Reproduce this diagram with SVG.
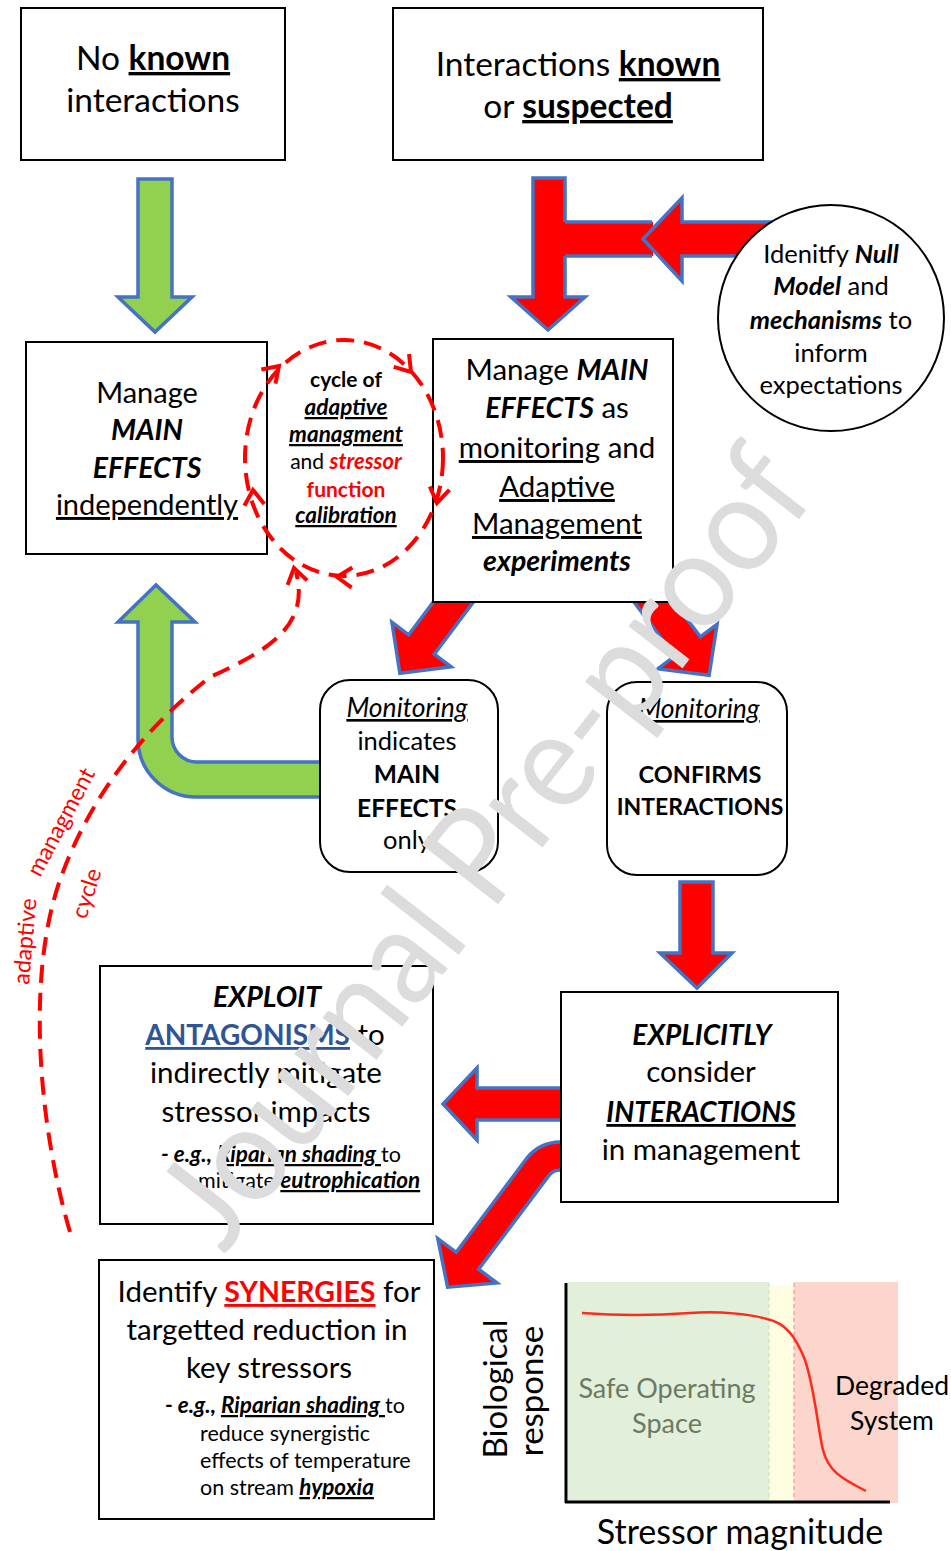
<svg xmlns="http://www.w3.org/2000/svg" xmlns:xlink="http://www.w3.org/1999/xlink" width="951" height="1551" viewBox="0 0 951 1551">
<style>
.box{fill:#fff;stroke:#000;stroke-width:2}
.ar{fill:#FF0000;stroke:#4472C4;stroke-width:3.5;stroke-linejoin:miter}
.ag{fill:#92D050;stroke:#4472C4;stroke-width:3.5;stroke-linejoin:miter}
.t{font-family:Lato,"Open Sans","Liberation Sans",sans-serif;fill:#000}
.c{text-anchor:middle}
.b{font-weight:bold}
.i{font-style:italic}
.u{text-decoration:underline}
.red{fill:#FF0000}
.dash{fill:none;stroke:#FF0000;stroke-width:4;stroke-dasharray:18 10}
.chev{fill:none;stroke:#FF0000;stroke-width:4}
</style>
<defs>
<path id="chev" d="M-15,-10 L0,0 L-15,10"/>
</defs>
<rect width="951" height="1551" fill="#fff"/>

<g id="connectors">
<polygon class="ag" points="138,179 172,179 172,297 192,297 155,332 118,297 138,297"/>
<polygon class="ar" points="533,178 565,178 565,297 585,297 548,330 511,297 533,297"/>
<rect x="563" y="222" width="90" height="34" fill="#FF0000"/>
<line x1="565" y1="222" x2="652" y2="222" stroke="#4472C4" stroke-width="3.5"/>
<line x1="565" y1="256" x2="652" y2="256" stroke="#4472C4" stroke-width="3.5"/>
<polygon class="ar" points="775,222 682,222 682,198 643,239 682,281 682,256 775,256"/>
<polygon class="ar" points="450.7,578.9 408.7,634.9 391.9,622.3 399.9,673.3 451.1,666.7 434.3,654.1 476.3,598.1"/>
<polygon class="ar" points="632.7,600.1 674.7,656.1 657.9,668.7 709.1,675.3 717.1,624.3 700.3,636.9 658.3,580.9"/>
<path class="ag" d="M330,762 L197,762 A25,25 0 0 1 172,737 L172,622 L195,622 L156,585 L118,622 L138,622 L138,739 A58,58 0 0 0 196,797 L330,797 Z"/>
<polygon class="ar" points="680,882 713,882 713,953 732,953 697,988 660,953 680,953"/>
<polygon class="ar" points="575,1088 477,1088 477,1068 443,1104 477,1140 477,1120 575,1120"/>
<path class="ar" d="M575,1142 L560,1142 A42,42 0 0 0 526.4,1158.8 L456.2,1252.4 L437.8,1238.6 L447.6,1287.2 L497,1283 L478.6,1269.2 L548.8,1175.6 A14,14 0 0 1 560,1170 L575,1170 Z"/>
</g>

<g id="node-no-known">
<rect class="box" x="21" y="8" width="264" height="152"/>
<text class="t c" x="153" y="70" font-size="33.5">No <tspan class="b u">known</tspan></text>
<text class="t c" x="153" y="112" font-size="33.5">interactions</text>
</g>

<g id="node-known">
<rect class="box" x="393" y="8" width="370" height="152"/>
<text class="t c" x="578" y="76" font-size="33.5">Interactions <tspan class="b u">known</tspan></text>
<text class="t c" x="578" y="118" font-size="33.5">or <tspan class="b u">suspected</tspan></text>
</g>

<g id="node-null-model">
<circle cx="831" cy="318" r="113" fill="#fff" stroke="#000" stroke-width="2"/>
<text class="t c" x="831" y="263" font-size="25.5">Idenitfy <tspan class="b i">Null</tspan></text>
<text class="t c" x="831" y="295" font-size="25.5"><tspan class="b i">Model</tspan> and</text>
<text class="t c" x="831" y="329" font-size="25.5"><tspan class="b i">mechanisms</tspan> to</text>
<text class="t c" x="831" y="362" font-size="25.5">inform</text>
<text class="t c" x="831" y="394" font-size="25.5">expectations</text>
</g>

<g id="node-manage-independent">
<rect class="box" x="26" y="342" width="241" height="212"/>
<text class="t c" x="147" y="403" font-size="29">Manage</text>
<text class="t c b i" x="147" y="440" font-size="28.5">MAIN</text>
<text class="t c b i" x="147" y="478" font-size="28.5">EFFECTS</text>
<text class="t c u" x="147" y="515" font-size="29">independently</text>
</g>

<g id="node-manage-experiments">
<rect class="box" x="433" y="339" width="240" height="263"/>
<text class="t c" x="557" y="380" font-size="29.5">Manage <tspan class="b i" font-size="28.5">MAIN</tspan></text>
<text class="t c" x="557" y="418" font-size="29.5"><tspan class="b i" font-size="28.5">EFFECTS</tspan> as</text>
<text class="t c" x="557" y="458" font-size="29.5"><tspan class="u">monitoring</tspan> and</text>
<text class="t c u" x="557" y="497" font-size="29.5">Adaptive</text>
<text class="t c u" x="557" y="534" font-size="29.5">Management</text>
<text class="t c b i" x="557" y="571" font-size="28.5">experiments</text>
</g>

<g id="node-monitoring-main">
<rect class="box" x="320" y="680" width="178" height="192" rx="30"/>
<text class="t c i u" x="407" y="717" font-size="26.5">Monitoring</text>
<text class="t c" x="407" y="750" font-size="25.5">indicates</text>
<text class="t c b" x="407" y="783" font-size="24.5">MAIN</text>
<text class="t c b" x="407" y="817" font-size="24.5">EFFECTS</text>
<text class="t c" x="407" y="849" font-size="25.5">only</text>
</g>

<g id="node-monitoring-interactions">
<rect class="box" x="607" y="682" width="180" height="193" rx="30"/>
<text class="t c i u" x="699" y="718" font-size="26.5">Monitoring</text>
<text class="t c b" x="700" y="783" font-size="23.5">CONFIRMS</text>
<text class="t c b" x="700" y="815" font-size="23">INTERACTIONS</text>
</g>

<g id="node-exploit">
<rect class="box" x="100" y="966" width="333" height="258"/>
<text class="t c b i" x="267" y="1007" font-size="28.5">EXPLOIT</text>
<text class="t c" x="265" y="1045" font-size="29.5"><tspan class="b u" fill="#2F5597" font-size="28">ANTAGONISMS</tspan> to</text>
<text class="t c" x="266" y="1083" font-size="29.5">indirectly mitigate</text>
<text class="t c" x="266" y="1122" font-size="29.5">stressor impacts</text>
<text class="t" x="161" y="1162" font-size="21.5"><tspan class="b i" font-size="22.5">- e.g., </tspan><tspan class="b i u" font-size="22.5">Riparian shading </tspan>to</text>
<text class="t" x="198" y="1188" font-size="21.5">mitigate <tspan class="b i u" font-size="22.5">eutrophication</tspan></text>
</g>

<g id="node-explicitly">
<rect class="box" x="561" y="992" width="277" height="210"/>
<text class="t c b i" x="702" y="1045" font-size="28">EXPLICITLY</text>
<text class="t c" x="701" y="1082" font-size="29.5">consider</text>
<text class="t c b i u" x="701" y="1122" font-size="28">INTERACTIONS</text>
<text class="t c" x="701" y="1160" font-size="29.5">in management</text>
</g>

<g id="node-synergies">
<rect class="box" x="99" y="1260" width="335" height="259"/>
<text class="t c" x="269" y="1302" font-size="29.5">Identify <tspan class="b u red" font-size="28.5">SYNERGIES</tspan> for</text>
<text class="t c" x="267" y="1340" font-size="29.5">targetted reduction in</text>
<text class="t c" x="269" y="1378" font-size="29.5">key stressors</text>
<text class="t" x="165" y="1413" font-size="21.5"><tspan class="b i" font-size="22.5">- e.g., </tspan><tspan class="b i u" font-size="22.5">Riparian shading </tspan>to</text>
<text class="t" x="200" y="1441" font-size="21.5">reduce synergistic</text>
<text class="t" x="200" y="1468" font-size="21.5">effects of temperature</text>
<text class="t" x="200" y="1495" font-size="21.5">on stream <tspan class="b i u" font-size="22.5">hypoxia</tspan></text>
</g>

<g id="node-graph">
<rect x="568" y="1282" width="201" height="219" fill="#E2EFDA"/>
<rect x="769" y="1285" width="25" height="216" fill="#FFFDE1"/>
<rect x="794" y="1282" width="104" height="221" fill="#FCD5CC"/>
<line x1="769" y1="1283" x2="769" y2="1500" stroke="#C5E0B4" stroke-width="1" stroke-dasharray="4 3"/>
<line x1="794" y1="1283" x2="794" y2="1500" stroke="#F08878" stroke-width="1" stroke-dasharray="4 3"/>
<path d="M582,1313 C620,1316 650,1316 690,1313 C720,1311 750,1314 767,1319 C785,1323 795,1335 805,1360 C815,1390 818,1430 823,1450 C828,1470 840,1478 866,1491" fill="none" stroke="#FF2A1A" stroke-width="2.5"/>
<line x1="566" y1="1283" x2="566" y2="1503" stroke="#000" stroke-width="3"/>
<line x1="565" y1="1502" x2="890" y2="1502" stroke="#000" stroke-width="3"/>
<text class="t c" x="667" y="1398" font-size="27" style="fill:#6B7B63">Safe Operating</text>
<text class="t c" x="667" y="1433" font-size="27" style="fill:#6B7B63">Space</text>
<text class="t c" x="892" y="1395" font-size="26.5">Degraded</text>
<text class="t c" x="892" y="1430" font-size="26.5">System</text>
<text class="t c" transform="translate(507,1389) rotate(-90)" font-size="33">Biological</text>
<text class="t c" transform="translate(543,1391) rotate(-90)" font-size="33">response</text>
<text class="t c" x="740" y="1544" font-size="34">Stressor magnitude</text>
</g>

<g id="node-cycle">
<text class="t c b" x="346" y="387" font-size="21">cycle of</text>
<text class="t c b i u" x="346" y="415" font-size="22.5">adaptive</text>
<text class="t c b i u" x="346" y="442" font-size="22.5">managment</text>
<text class="t c" x="346" y="469" font-size="21">and <tspan class="b i red" font-size="22">stressor</tspan></text>
<text class="t c b red" x="346" y="497" font-size="21">function</text>
<text class="t c b i u" x="346" y="523" font-size="22.5">calibration</text>
</g>

<g id="cycle-connectors">
<ellipse class="dash" cx="344" cy="458" rx="99" ry="118"/>
<use href="#chev" class="chev" transform="translate(279,366) rotate(-45)"/>
<use href="#chev" class="chev" transform="translate(411,372) rotate(50)"/>
<use href="#chev" class="chev" transform="translate(437,503) rotate(100)"/>
<use href="#chev" class="chev" transform="translate(337,577) rotate(182)"/>
<use href="#chev" class="chev" transform="translate(253,490) rotate(-95)"/>
<path class="dash" d="M70,1232 C40,1130 25,980 60,880 C85,810 130,740 210,677 C270,650 310,625 296,572"/>
<use href="#chev" class="chev" transform="translate(294,568) rotate(-103)"/>
<text class="t red" font-size="23" transform="translate(29,985) rotate(-85)">adaptive</text>
<text class="t red" font-size="23" transform="translate(40,878) rotate(-62)">managment</text>
<text class="t red" font-size="23" transform="translate(86,920) rotate(-72)">cycle</text>
</g>

<text id="watermark" font-family="Lato,'Open Sans',sans-serif" font-size="135" fill="#DCDCDC" transform="translate(224,1255) rotate(-52)" textLength="965" lengthAdjust="spacingAndGlyphs">Journal Pre-proof</text>
</svg>
